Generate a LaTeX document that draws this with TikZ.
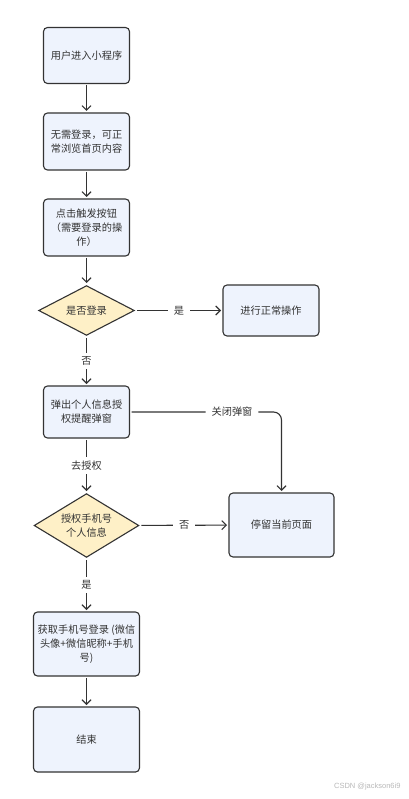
\documentclass[tikz,border=0pt]{standalone}
\usepackage{fontspec}
\setmainfont{Noto Sans CJK SC}
\newfontfamily\wmfont{Liberation Sans}
\usetikzlibrary{shapes.geometric,arrows.meta}
\definecolor{boxfill}{HTML}{EEF3FD}
\definecolor{diafill}{HTML}{FEF0C7}
\definecolor{ink}{HTML}{333333}
\begin{document}
\begin{tikzpicture}[x=1pt,y=-1pt,
  txt/.style={text=ink, font=\fontsize{10.2}{14}\selectfont},
  proc/.style={txt, draw=ink, fill=boxfill, rounded corners=4pt, line width=1.1pt, align=center, outer sep=2pt, inner sep=2pt},
  dec/.style={txt, diamond, draw=ink, fill=diafill, line width=1.1pt, align=center, inner sep=0pt, aspect=2, outer sep=2pt},
  conn/.style={draw=ink, line width=1.1pt, -{Straight Barb[length=4.5pt,width=9pt]}},
  lbl/.style={txt, fill=white, inner xsep=6pt, inner ysep=4pt}]
\useasboundingbox (0,0) rectangle (408,799);
\fill[white] (0,0) rectangle (408,799);
\node[proc, minimum width=86pt, minimum height=56pt] (b1) at (86.5,55.5) {用户进入小程序};
\node[proc, minimum width=86pt, minimum height=57pt] (b2) at (86.5,141.5) {无需登录，可正\\常浏览首页内容};
\node[proc, minimum width=86pt, minimum height=57pt] (b3) at (86.5,227.5) {点击触发按钮\\（需要登录的操\\作）};
\node[dec, minimum width=97pt, minimum height=51pt] (d1) at (86.5,310.5) {是否登录};
\node[proc, minimum width=96pt, minimum height=51pt] (r1) at (271,310.5) {进行正常操作};
\node[proc, minimum width=86pt, minimum height=52pt] (b4) at (86.5,412) {弹出个人信息授\\权提醒弹窗};
\node[dec, minimum width=106pt, minimum height=65pt] (d2) at (86.5,525.5) {授权手机号\\个人信息};
\node[proc, minimum width=105pt, minimum height=64pt] (b5) at (281.5,525) {停留当前页面};
\node[proc, minimum width=106pt, minimum height=64pt] (b6) at (86.5,644) {获取手机号登录 (微信\\头像+微信昵称+手机\\号)};
\node[proc, minimum width=106pt, minimum height=65pt] (b7) at (86.5,739.5) {结束};
\coordinate (c1) at (281.5,412);
\draw[conn] (b1) -- (b2);
\draw[conn] (b2) -- (b3);
\draw[conn] (b3) -- (d1);
\draw[conn] (d1) -- node[lbl] {是} (r1);
\draw[conn] (d1) -- node[lbl] {否} (b4);
\draw[conn, rounded corners=8pt] (b4.east) -- node[lbl, pos=0.67] {关闭弹窗} (c1) -- (b5.north);
\draw[conn] (b4) -- node[lbl] {去授权} (d2);
\draw[conn] (d2) -- node[lbl] {否} (b5);
\draw[conn] (d2) -- node[lbl] {是} (b6);
\draw[conn] (b6) -- (b7);
\node[anchor=east, text=gray!55, font=\wmfont\fontsize{7.5}{9}\selectfont] (wm) at (404,787) {CSDN @jackson6i9};
\end{tikzpicture}
\end{document}
